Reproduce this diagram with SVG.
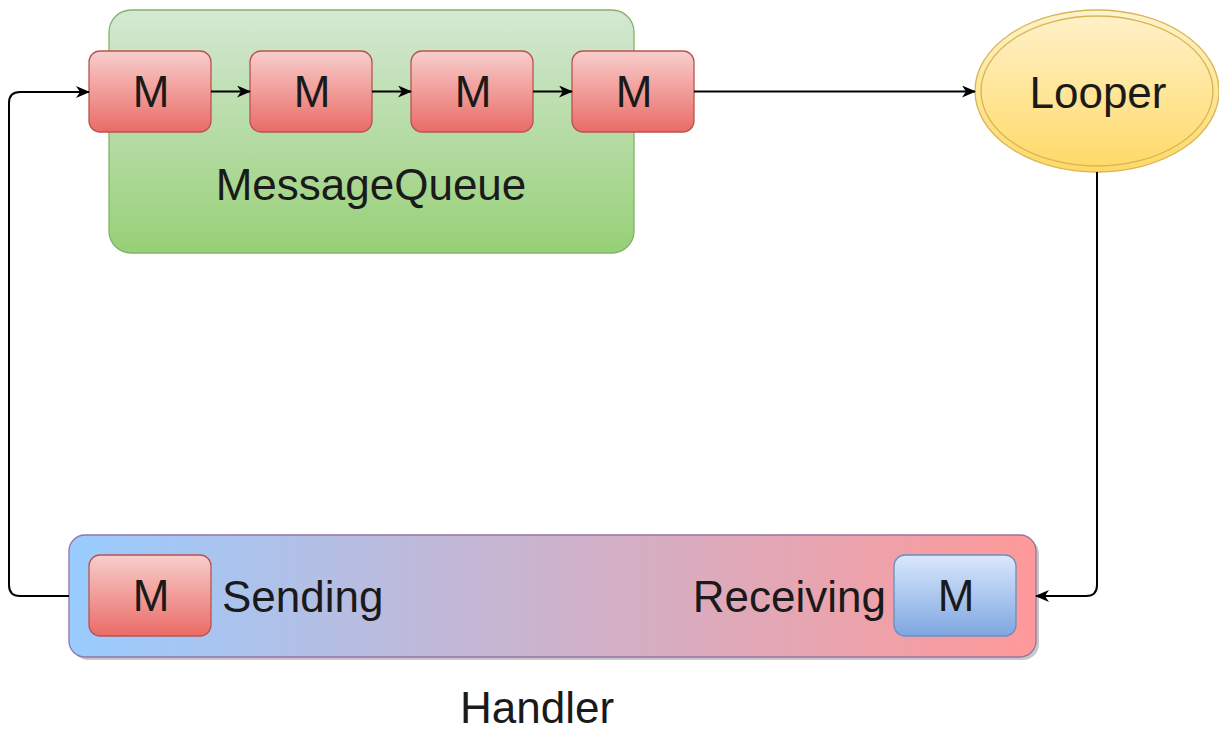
<svg xmlns="http://www.w3.org/2000/svg" width="1219" height="730" viewBox="0 0 1219 730">
<defs>
<linearGradient id="gGreen" x1="0" y1="0" x2="0" y2="1"><stop offset="0" stop-color="#d5e8d4"/><stop offset="1" stop-color="#97d077"/></linearGradient>
<linearGradient id="gRed" x1="0" y1="0" x2="0" y2="1"><stop offset="0" stop-color="#f8cecc"/><stop offset="1" stop-color="#ea6b66"/></linearGradient>
<linearGradient id="gBlue" x1="0" y1="0" x2="0" y2="1"><stop offset="0" stop-color="#dae8fc"/><stop offset="1" stop-color="#7ea6e0"/></linearGradient>
<linearGradient id="gYellow" x1="0" y1="0" x2="0" y2="1"><stop offset="0" stop-color="#fff2cc"/><stop offset="1" stop-color="#ffd966"/></linearGradient>
<linearGradient id="gHandler" x1="0" y1="0" x2="1" y2="0"><stop offset="0" stop-color="#99ccff"/><stop offset="1" stop-color="#ff9999"/></linearGradient>
<marker id="arr" viewBox="0 0 14 12" refX="13" refY="6" markerWidth="14" markerHeight="12" markerUnits="userSpaceOnUse" orient="auto"><path d="M0,0 L14,6 L0,12 L4,6 Z" fill="#000"/></marker>
</defs>
<style>
text{font-family:"Liberation Sans",Arial,sans-serif;font-size:44px;fill:#1a1a1a}
.c{text-anchor:middle}
.m{fill:url(#gRed);stroke:#b85450;stroke-width:1.3}
.mb{fill:url(#gBlue);stroke:#6c8ebf;stroke-width:1.3}
.edge{fill:none;stroke:#000;stroke-width:2}
</style>
<g id="messagequeue">
<rect x="109" y="10" width="525" height="243" rx="22" fill="url(#gGreen)" stroke="#82b366" stroke-width="1.3"/>
<text class="c" x="371" y="200">MessageQueue</text>
</g>
<g id="m1"><rect class="m" x="89" y="51" width="122" height="81" rx="11"/><text class="c" x="151" y="107">M</text></g>
<g id="m2"><rect class="m" x="250" y="51" width="122" height="81" rx="11"/><text class="c" x="312" y="107">M</text></g>
<g id="m3"><rect class="m" x="411" y="51" width="122" height="81" rx="11"/><text class="c" x="473" y="107">M</text></g>
<g id="m4"><rect class="m" x="572" y="51" width="122" height="81" rx="11"/><text class="c" x="634" y="107">M</text></g>
<g id="looper">
<ellipse cx="1097" cy="91" rx="122" ry="81" fill="url(#gYellow)" stroke="#d6b656" stroke-width="1.3"/>
<ellipse cx="1097" cy="91" rx="116" ry="75" fill="none" stroke="#d6b656" stroke-width="1.3"/>
<text class="c" x="1098" y="108">Looper</text>
</g>
<g id="handler">
<rect x="72" y="538" width="967" height="122" rx="16" fill="#c8c8c8"/>
<rect x="69" y="535" width="967" height="122" rx="16" fill="url(#gHandler)" stroke="#9673a6" stroke-width="1.3"/>
<rect class="m" x="89" y="555" width="122" height="81" rx="11"/><text class="c" x="151" y="611">M</text>
<text x="222" y="612">Sending</text>
<text x="886" y="612" text-anchor="end">Receiving</text>
<rect class="mb" x="894" y="555" width="122" height="81" rx="11"/><text class="c" x="956" y="611">M</text>
<text class="c" x="537" y="723">Handler</text>
</g>
<g id="connectors">
<path class="edge" d="M211,91.5 H250" marker-end="url(#arr)"/>
<path class="edge" d="M372,91.5 H411" marker-end="url(#arr)"/>
<path class="edge" d="M533,91.5 H572" marker-end="url(#arr)"/>
<path class="edge" d="M694,91.5 H975" marker-end="url(#arr)"/>
<path class="edge" d="M1097,172 V585 Q1097,596 1086,596 H1036" marker-end="url(#arr)"/>
<path class="edge" d="M69,596 H20 Q9,596 9,585 V103 Q9,92 20,92 H89" marker-end="url(#arr)"/>
</g>
</svg>
